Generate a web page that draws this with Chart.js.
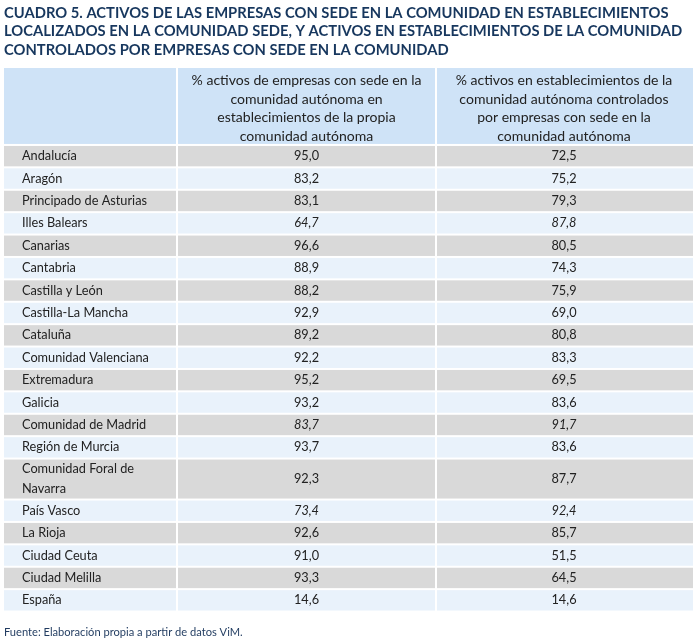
<!DOCTYPE html>
<html lang="es">
<head>
<meta charset="utf-8">
<title>Cuadro 5</title>
<script src="https://cdn.jsdelivr.net/npm/chart.js@4.4.1/dist/chart.umd.min.js"></script>
<style>
html, body { margin: 0; padding: 0; background: #fff; }
canvas { display: block; }
</style>
</head>
<body>
<canvas id="cuadro" width="697" height="639"></canvas>
<script>
// datos del cuadro
const titulo = [
  'CUADRO 5. ACTIVOS DE LAS EMPRESAS CON SEDE EN LA COMUNIDAD EN ESTABLECIMIENTOS',
  'LOCALIZADOS EN LA COMUNIDAD SEDE, Y ACTIVOS EN ESTABLECIMIENTOS DE LA COMUNIDAD',
  'CONTROLADOS POR EMPRESAS CON SEDE EN LA COMUNIDAD'
];
const cabeceras = [
  ['% activos de empresas con sede en la', 'comunidad autónoma en', 'establecimientos de la propia', 'comunidad autónoma'],
  ['% activos en establecimientos de la', 'comunidad autónoma controlados', 'por empresas con sede en la', 'comunidad autónoma']
];
const regiones = [
  'Andalucía', 'Aragón', 'Principado de Asturias', 'Illes Balears', 'Canarias',
  'Cantabria', 'Castilla y León', 'Castilla-La Mancha', 'Cataluña', 'Comunidad Valenciana',
  'Extremadura', 'Galicia', 'Comunidad de Madrid', 'Región de Murcia',
  ['Comunidad Foral de', 'Navarra'], 'País Vasco', 'La Rioja', 'Ciudad Ceuta',
  'Ciudad Melilla', 'España'
];
const sedePropia = [95.0, 83.2, 83.1, 64.7, 96.6, 88.9, 88.2, 92.9, 89.2, 92.2,
  95.2, 93.2, 83.7, 93.7, 92.3, 73.4, 92.6, 91.0, 93.3, 14.6];
const controlados = [72.5, 75.2, 79.3, 87.8, 80.5, 74.3, 75.9, 69.0, 80.8, 83.3,
  69.5, 83.6, 91.7, 83.6, 87.7, 92.4, 85.7, 51.5, 64.5, 14.6];
const enCursiva = ['Illes Balears', 'Comunidad de Madrid', 'País Vasco'];
const fuente = 'Fuente: Elaboración propia a partir de datos ViM.';

// maquetacion (unidades de los ejes)
const COLS = [0, 174, 433, 689];
const CAB_U = 3.48;
const DOBLE_U = 1.83;
const GAP = 2;
const FONT = 'Lato, "Open Sans", sans-serif';

const altoFila = regiones.map(r => Array.isArray(r) ? DOBLE_U : 1);
const iniFila = [];
altoFila.reduce((acc, h, i) => { iniFila[i] = acc; return acc + h; }, CAB_U);
const totalU = CAB_U + altoFila.reduce((a, b) => a + b, 0);
const centroFila = iniFila.map((t, i) => t + altoFila[i] / 2);
const centroCol = c => (COLS[c] + COLS[c + 1]) / 2;
const fmt = v => v.toFixed(1).replace('.', ',');

function ajustar(ctx, txt, peso, ancho) {
  ctx.font = peso + ' 20px ' + FONT;
  return 20 * ancho / ctx.measureText(txt).width;
}

const tabla = {
  id: 'tabla',
  beforeDatasetsDraw(chart) {
    const { ctx, scales: { x, y } } = chart;
    ctx.save();
    // fondos de cabecera
    ctx.fillStyle = '#cfe3f7';
    for (let c = 0; c < 3; c++) {
      const x0 = x.getPixelForValue(COLS[c]);
      const x1 = x.getPixelForValue(COLS[c + 1]) - (c < 2 ? GAP : 0);
      const y0 = y.getPixelForValue(0), y1 = y.getPixelForValue(CAB_U) - GAP;
      ctx.fillRect(x0, y0, x1 - x0, y1 - y0);
    }
    // fondos de filas
    regiones.forEach((r, i) => {
      ctx.fillStyle = i % 2 === 0 ? '#d9d9d9' : '#e9f2fb';
      const y0 = y.getPixelForValue(iniFila[i]);
      const y1 = y.getPixelForValue(iniFila[i] + altoFila[i]) - GAP;
      for (let c = 0; c < 3; c++) {
        const x0 = x.getPixelForValue(COLS[c]);
        const x1 = x.getPixelForValue(COLS[c + 1]) - (c < 2 ? GAP : 0);
        ctx.fillRect(x0, y0, x1 - x0, y1 - y0);
      }
    });

    // titulo
    const tSize = ajustar(ctx, titulo[0], 'bold', 665);
    ctx.font = 'bold ' + tSize.toFixed(2) + 'px ' + FONT;
    ctx.fillStyle = '#17375e';
    ctx.textAlign = 'left';
    ctx.textBaseline = 'middle';
    titulo.forEach((l, i) => ctx.fillText(l, 4, 13 + i * 18.7));

    // cabeceras de columna
    const hSize = ajustar(ctx, cabeceras[0][0], 'normal', 230);
    ctx.font = hSize.toFixed(2) + 'px ' + FONT;
    ctx.fillStyle = '#222';
    ctx.textAlign = 'center';
    const yCab = (y.getPixelForValue(0) + y.getPixelForValue(CAB_U)) / 2;
    cabeceras.forEach((lineas, c) => {
      const cx = x.getPixelForValue(centroCol(c + 1)) - GAP / 2;
      lineas.forEach((l, k) => ctx.fillText(l, cx, yCab + 1.5 + (k - 1.5) * 18.5));
    });

    // nombres de region
    const bSize = ajustar(ctx, 'Principado de Asturias', 'normal', 125);
    ctx.font = bSize.toFixed(2) + 'px ' + FONT;
    ctx.textAlign = 'left';
    regiones.forEach((r, i) => {
      const lineas = Array.isArray(r) ? r : [r];
      const cy = y.getPixelForValue(centroFila[i]) - GAP / 2;
      lineas.forEach((l, k) => ctx.fillText(l, x.getPixelForValue(18), cy + (k - (lineas.length - 1) / 2) * 20));
    });

    // fuente
    const fSize = ajustar(ctx, fuente, 'normal', 239);
    ctx.font = fSize.toFixed(2) + 'px ' + FONT;
    ctx.fillStyle = '#1f3a5f';
    ctx.fillText(fuente, 4, 632);
    ctx.restore();
  },
  afterDatasetsDraw(chart) {
    const { ctx } = chart;
    ctx.save();
    ctx.fillStyle = '#222';
    ctx.textAlign = 'center';
    ctx.textBaseline = 'middle';
    const size = ajustar(ctx, 'Principado de Asturias', 'normal', 125);
    chart.data.datasets.forEach((ds, d) => {
      chart.getDatasetMeta(d).data.forEach((pt, i) => {
        const nombre = Array.isArray(regiones[i]) ? regiones[i].join(' ') : regiones[i];
        const it = enCursiva.includes(nombre) ? 'italic ' : '';
        ctx.font = it + size.toFixed(2) + 'px ' + FONT;
        ctx.fillText(fmt(ds.valores[i]), pt.x - GAP / 2, pt.y - GAP / 2);
      });
    });
    ctx.restore();
  }
};

const serie = (vals, c, etiqueta) => ({
  label: etiqueta,
  valores: vals,
  data: vals.map((v, i) => ({ x: centroCol(c), y: centroFila[i] })),
  pointRadius: 0,
  pointHoverRadius: 0,
  showLine: false
});

new Chart(document.getElementById('cuadro'), {
  type: 'scatter',
  data: {
    datasets: [
      serie(sedePropia, 1, cabeceras[0].join(' ')),
      serie(controlados, 2, cabeceras[1].join(' '))
    ]
  },
  options: {
    responsive: false,
    animation: false,
    events: [],
    layout: { padding: { left: 4, right: 4, top: 68, bottom: 639 - 68 - 22.4 * totalU } },
    plugins: { legend: { display: false }, tooltip: { enabled: false } },
    scales: {
      x: { type: 'linear', min: 0, max: COLS[3], display: false },
      y: { type: 'linear', min: 0, max: totalU, reverse: true, display: false }
    }
  },
  plugins: [tabla]
});
</script>
</body>
</html>
